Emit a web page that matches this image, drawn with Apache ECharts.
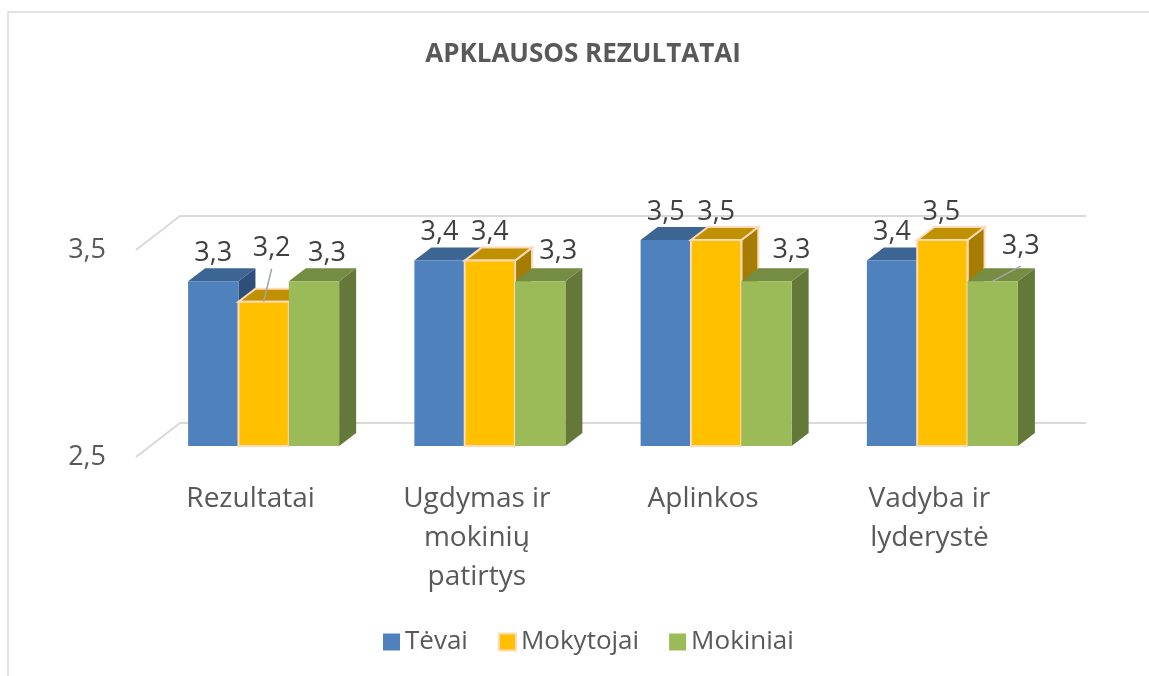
<!DOCTYPE html>
<html>
<head>
<meta charset="utf-8">
<title>Apklausos rezultatai</title>
<script src="https://cdn.jsdelivr.net/npm/echarts@6/dist/echarts.min.js"></script>
<style>
    html, body { margin: 0; padding: 0; background: #fff; }
    #chart { width: 1149px; height: 676px; }
</style>
</head>
<body>
<div id="chart"></div>
<script>
// duomenys
var categories = ['Rezultatai', 'Ugdymas ir\nmokinių\npatirtys', 'Aplinkos', 'Vadyba ir\nlyderystė'];
var tevai = [3.3, 3.4, 3.5, 3.4];
var mokytojai = [3.2, 3.4, 3.5, 3.5];
var mokiniai = [3.3, 3.3, 3.3, 3.3];
var tickValues = [2.5, 3.5];

var fontName = '"Open Sans", sans-serif';
var depthX = 17, depthY = 13;   // bar depth
var wallX = 44, wallY = 34;     // side wall of the plot

// label shift from the top of the front face, [dx, dy, leader line]
var labelShift = [
    [[0, -28], [0, -28], [0, -28], [0, -28]],
    [[8, -53, true], [0, -28], [0, -28], [-1, -28]],
    [[13, -28], [18, -30], [25, -31], [28, -35, true]]
];

function fmt(v) {
    return String(v).replace('.', ',');
}

function barRenderer(idx, front, top, side, border) {
    return function (params, api) {
        var cat = api.value(0), val = api.value(1);
        var p = api.coord([cat, val]);
        var base = api.coord([cat, 2.5]);
        var w = api.size([1, 0])[0] * 0.2225;
        var x0 = p[0] + (idx - 1.5) * w;
        var x1 = x0 + w;
        var y0 = p[1], y1 = base[1];
        var st = { lineWidth: border ? 2 : 0, stroke: border || null };
        var shift = labelShift[idx][cat];
        var lx = (x0 + x1) / 2 + shift[0], ly = y0 + shift[1];
        var children = [
            { type: 'polygon', shape: { points: [[x1, y0], [x1 + depthX, y0 - depthY], [x1 + depthX, y1 - depthY], [x1, y1]] },
              style: Object.assign({ fill: side }, st) },
            { type: 'polygon', shape: { points: [[x0, y0], [x0 + depthX, y0 - depthY], [x1 + depthX, y0 - depthY], [x1, y0]] },
              style: Object.assign({ fill: top }, st) },
            { type: 'rect', shape: { x: x0, y: y0, width: w, height: y1 - y0 },
              style: Object.assign({ fill: front }, st) }
        ];
        if (shift[2]) {
            children.push({ type: 'line', shape: { x1: (x0 + x1) / 2, y1: y0, x2: lx, y2: ly + 20 },
                style: { stroke: '#A6A6A6', lineWidth: 1.5 } });
        }
        children.push({ type: 'text', style: { text: fmt(val), x: lx, y: ly, align: 'center', verticalAlign: 'middle',
            fill: '#404040', font: '27px ' + fontName } });
        return { type: 'group', children: children };
    };
}

function wallRenderer(params, api) {
    var p = api.coord([0, api.value(0)]);
    var w = api.size([1, 0])[0];
    return {
        type: 'polyline',
        shape: { points: [[p[0], p[1]], [p[0] + wallX, p[1] - wallY], [p[0] + w, p[1] - wallY]] },
        style: { stroke: '#D9D9D9', lineWidth: 2, fill: null }
    };
}

function barSeries(name, values, idx, front, top, side, border) {
    return {
        name: name,
        type: 'custom',
        xAxisIndex: 0,
        yAxisIndex: 0,
        z: 3,
        silent: true,
        renderItem: barRenderer(idx, front, top, side, border),
        encode: { x: 0, y: 1 },
        itemStyle: border ? { color: front, borderColor: border, borderWidth: 2 } : { color: front },
        data: values.map(function (v, i) { return [i, v]; })
    };
}

var myChart = echarts.init(document.getElementById('chart'), null, { renderer: 'canvas' });

var option = {
    animation: false,
    backgroundColor: '#fff',
    title: {
        text: 'APKLAUSOS REZULTATAI',
        left: 578,
        top: 37,
        textAlign: 'center',
        textStyle: { fontFamily: fontName, fontSize: 26, fontWeight: 'bold', color: '#595959' }
    },
    legend: {
        left: 378,
        top: 624,
        icon: 'rect',
        itemWidth: 17,
        itemHeight: 17,
        itemGap: 30,
        textStyle: { fontFamily: fontName, fontSize: 26, color: '#595959' },
        data: ['Tėvai', 'Mokytojai', 'Mokiniai']
    },
    graphic: [
        {
            type: 'polyline',
            silent: true,
            shape: { points: [[8, 676], [8, 12], [1149, 12]] },
            style: { fill: 'none', stroke: '#D9D9D9', lineWidth: 1.5 }
        }
    ],
    grid: [
        { left: 150.5, width: 905, top: 240, height: 206 },
        { left: 136, width: 950, top: 250, height: 207 }
    ],
    xAxis: [
        {
            gridIndex: 0,
            type: 'category',
            data: categories,
            axisLine: { show: false },
            axisTick: { show: false },
            axisLabel: {
                margin: 34,
                interval: 0,
                padding: [0, 26, 0, 0],
                lineHeight: 39,
                fontFamily: fontName,
                fontSize: 28,
                color: '#595959'
            }
        },
        { gridIndex: 1, type: 'value', min: 0, max: 1, show: false }
    ],
    yAxis: [
        { gridIndex: 0, type: 'value', min: 2.5, max: 3.5, show: false },
        {
            gridIndex: 1,
            type: 'value',
            min: 2.5,
            max: 3.5,
            axisLine: { show: false },
            axisTick: { show: false },
            splitLine: { show: false },
            axisLabel: {
                customValues: tickValues,
                margin: 30,
                fontFamily: fontName,
                fontSize: 27,
                color: '#595959',
                formatter: fmt
            }
        }
    ],
    series: [
        {
            type: 'custom',
            xAxisIndex: 1,
            yAxisIndex: 1,
            z: 1,
            silent: true,
            renderItem: wallRenderer,
            encode: { y: 0 },
            data: tickValues.map(function (v) { return [v]; })
        },
        barSeries('Tėvai', tevai, 0, '#4F81BD', '#3C6594', '#2F4E79'),
        barSeries('Mokytojai', mokytojai, 1, '#FFC000', '#BF9000', '#A67D00', '#FFD9B8'),
        barSeries('Mokiniai', mokiniai, 2, '#9BBB59', '#758C43', '#64783A')
    ]
};

myChart.setOption(option);
</script>
</body>
</html>
